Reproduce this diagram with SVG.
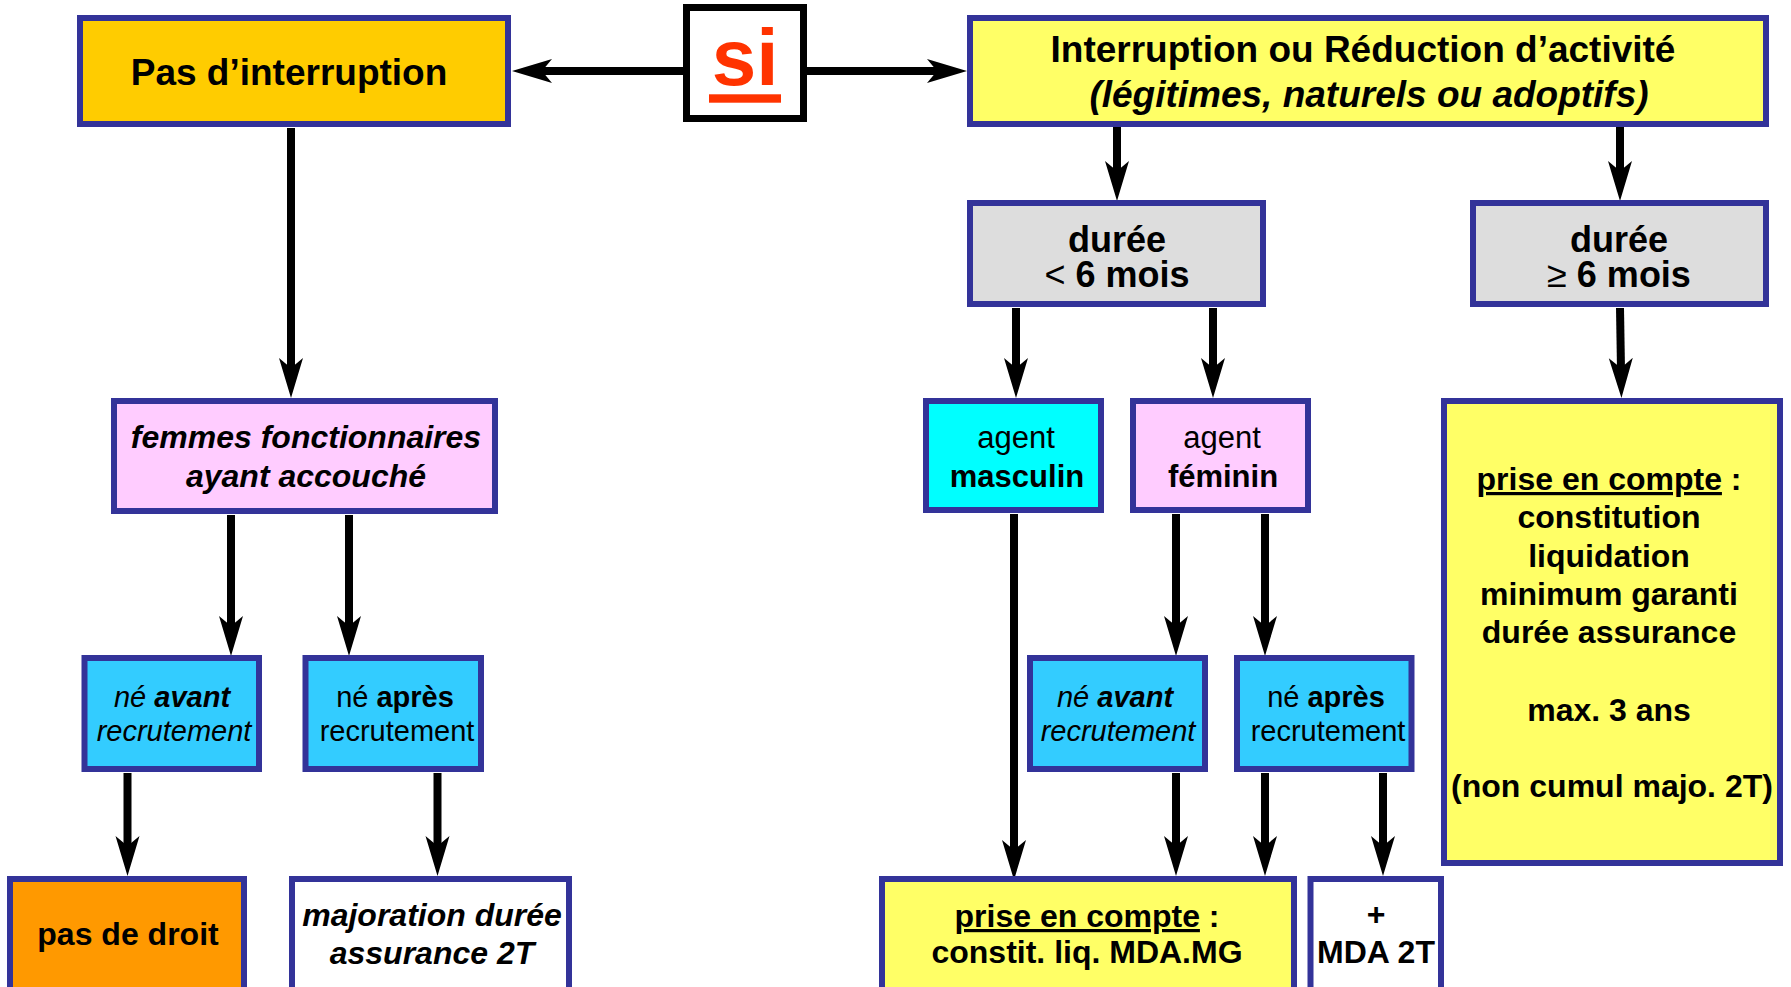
<svg xmlns="http://www.w3.org/2000/svg" width="1791" height="987" viewBox="0 0 1791 987">
<style>
.box{stroke:#333399;stroke-width:6}
.t{font-family:"Liberation Sans",Arial,Helvetica,sans-serif;fill:#000;text-anchor:middle}
.b{font-weight:bold}
.i{font-style:italic}
.n{font-weight:normal}
.u{text-decoration:underline}
.c{stroke:#000;stroke-width:8;fill:none}
</style>
<defs>
<marker id="ah" markerUnits="userSpaceOnUse" viewBox="0 -12 40 24" refX="12" refY="0" markerWidth="40" markerHeight="24" orient="auto" overflow="visible">
<path d="M0,-12 L40,0 L0,12 L10,0 Z" fill="#000"/>
</marker>
</defs>
<rect width="1791" height="987" fill="#fff"/>

<g id="connectors">
<line class="c" x1="683" y1="71" x2="540" y2="71" marker-end="url(#ah)"/>
<line class="c" x1="807" y1="71" x2="939" y2="71" marker-end="url(#ah)"/>
<line class="c" x1="291" y1="128" x2="291" y2="370" marker-end="url(#ah)"/>
<line class="c" x1="1117" y1="127" x2="1117" y2="173" marker-end="url(#ah)"/>
<line class="c" x1="1620" y1="127" x2="1620" y2="173" marker-end="url(#ah)"/>
<line class="c" x1="1016" y1="308" x2="1016" y2="370" marker-end="url(#ah)"/>
<line class="c" x1="1213" y1="308" x2="1213" y2="370" marker-end="url(#ah)"/>
<line class="c" x1="1620" y1="308" x2="1621" y2="370" marker-end="url(#ah)"/>
<line class="c" x1="231" y1="515" x2="231" y2="628" marker-end="url(#ah)"/>
<line class="c" x1="349" y1="515" x2="349" y2="628" marker-end="url(#ah)"/>
<line class="c" x1="127.5" y1="773" x2="127.5" y2="848" marker-end="url(#ah)"/>
<line class="c" x1="437.5" y1="773" x2="437.5" y2="848" marker-end="url(#ah)"/>
<line class="c" x1="1014" y1="514" x2="1014" y2="852" marker-end="url(#ah)"/>
<line class="c" x1="1176" y1="514" x2="1176" y2="628" marker-end="url(#ah)"/>
<line class="c" x1="1265" y1="514" x2="1265" y2="628" marker-end="url(#ah)"/>
<line class="c" x1="1176" y1="773" x2="1176" y2="848" marker-end="url(#ah)"/>
<line class="c" x1="1265" y1="773" x2="1265" y2="848" marker-end="url(#ah)"/>
<line class="c" x1="1383" y1="773" x2="1383" y2="848" marker-end="url(#ah)"/>
</g>

<g id="si">
<rect x="686.5" y="7.5" width="117" height="111" fill="#fff" stroke="#000" stroke-width="7"/>
<text class="t b" x="745" y="85" font-size="80" style="fill:#FF3300">si</text>
<rect x="709" y="94.3" width="72" height="8.4" fill="#FF3300"/>
</g>

<g id="pas-interruption">
<rect class="box" x="80" y="18" width="428" height="106" fill="#FFCC00"/>
<text class="t b" x="289" y="85" font-size="37">Pas d’interruption</text>
</g>

<g id="interruption">
<rect class="box" x="970" y="18" width="796" height="106" fill="#FFFF66"/>
<text class="t b" x="1363" y="62" font-size="37">Interruption ou Réduction d’activité</text>
<text class="t b i" x="1369" y="107" font-size="37">(légitimes, naturels ou adoptifs)</text>
</g>

<g id="duree-moins">
<rect class="box" x="970" y="203" width="293" height="101" fill="#DDDDDD"/>
<text class="t b" x="1117" y="252" font-size="36">durée</text>
<text class="t b" x="1117" y="287" font-size="36"><tspan class="n">&lt;</tspan> 6 mois</text>
</g>

<g id="duree-plus">
<rect class="box" x="1473" y="203" width="293" height="101" fill="#DDDDDD"/>
<text class="t b" x="1619" y="252" font-size="36">durée</text>
<text class="t b" x="1619" y="287" font-size="36"><tspan class="n">≥</tspan> 6 mois</text>
</g>

<g id="femmes">
<rect class="box" x="114" y="401" width="381" height="110" fill="#FFCCFF"/>
<text class="t b i" x="306" y="448" font-size="32">femmes fonctionnaires</text>
<text class="t b i" x="306" y="487" font-size="32">ayant accouché</text>
</g>

<g id="masculin">
<rect class="box" x="926" y="401" width="175" height="109" fill="#00FFFF"/>
<text class="t" x="1016" y="448" font-size="31">agent</text>
<text class="t b" x="1017" y="487" font-size="31">masculin</text>
</g>

<g id="feminin">
<rect class="box" x="1133" y="401" width="175" height="109" fill="#FFCCFF"/>
<text class="t" x="1222" y="448" font-size="31">agent</text>
<text class="t b" x="1223" y="487" font-size="31">féminin</text>
</g>

<g id="prise-big">
<rect class="box" x="1444" y="401" width="336" height="462" fill="#FFFF66"/>
<text class="t b" x="1609" y="490" font-size="32"><tspan class="u">prise en compte</tspan> :</text>
<text class="t b" x="1609" y="528" font-size="32">constitution</text>
<text class="t b" x="1609" y="567" font-size="32">liquidation</text>
<text class="t b" x="1609" y="605" font-size="32">minimum garanti</text>
<text class="t b" x="1609" y="643" font-size="32">durée assurance</text>
<text class="t b" x="1609" y="721" font-size="32">max. 3 ans</text>
<text class="t b" x="1612" y="797" font-size="32">(non cumul majo. 2T)</text>
</g>

<g id="ne-avant-l">
<rect class="box" x="84.5" y="658" width="174.5" height="111" fill="#33CCFF"/>
<text class="t i" x="172" y="707" font-size="29">né <tspan class="b">avant</tspan></text>
<text class="t i" x="174" y="741" font-size="29">recrutement</text>
</g>

<g id="ne-apres-l">
<rect class="box" x="305.5" y="658" width="175.5" height="111" fill="#33CCFF"/>
<text class="t" x="395" y="707" font-size="29">né <tspan class="b">après</tspan></text>
<text class="t" x="397" y="741" font-size="29">recrutement</text>
</g>

<g id="ne-avant-r">
<rect class="box" x="1030" y="658" width="175" height="111" fill="#33CCFF"/>
<text class="t i" x="1115" y="707" font-size="29">né <tspan class="b">avant</tspan></text>
<text class="t i" x="1118" y="741" font-size="29">recrutement</text>
</g>

<g id="ne-apres-r">
<rect class="box" x="1237" y="658" width="174.5" height="111" fill="#33CCFF"/>
<text class="t" x="1326" y="707" font-size="29">né <tspan class="b">après</tspan></text>
<text class="t" x="1328" y="741" font-size="29">recrutement</text>
</g>

<g id="pas-de-droit">
<rect class="box" x="10" y="879" width="234" height="130" fill="#FF9900"/>
<text class="t b" x="128" y="945" font-size="32">pas de droit</text>
</g>

<g id="majoration">
<rect class="box" x="292" y="879" width="277" height="130" fill="#FFFFFF"/>
<text class="t b i" x="432" y="926" font-size="32">majoration durée</text>
<text class="t b i" x="432" y="964" font-size="32">assurance 2T</text>
</g>

<g id="prise-bas">
<rect class="box" x="882" y="879" width="412" height="130" fill="#FFFF66"/>
<text class="t b" x="1087" y="927" font-size="32"><tspan class="u">prise en compte</tspan> :</text>
<text class="t b" x="1087" y="963" font-size="32">constit. liq. MDA.MG</text>
</g>

<g id="mda">
<rect class="box" x="1310.5" y="879" width="130.5" height="130" fill="#FFFFFF"/>
<text class="t b" x="1376" y="925" font-size="32">+</text>
<text class="t b" x="1376" y="963" font-size="32">MDA 2T</text>
</g>
</svg>
